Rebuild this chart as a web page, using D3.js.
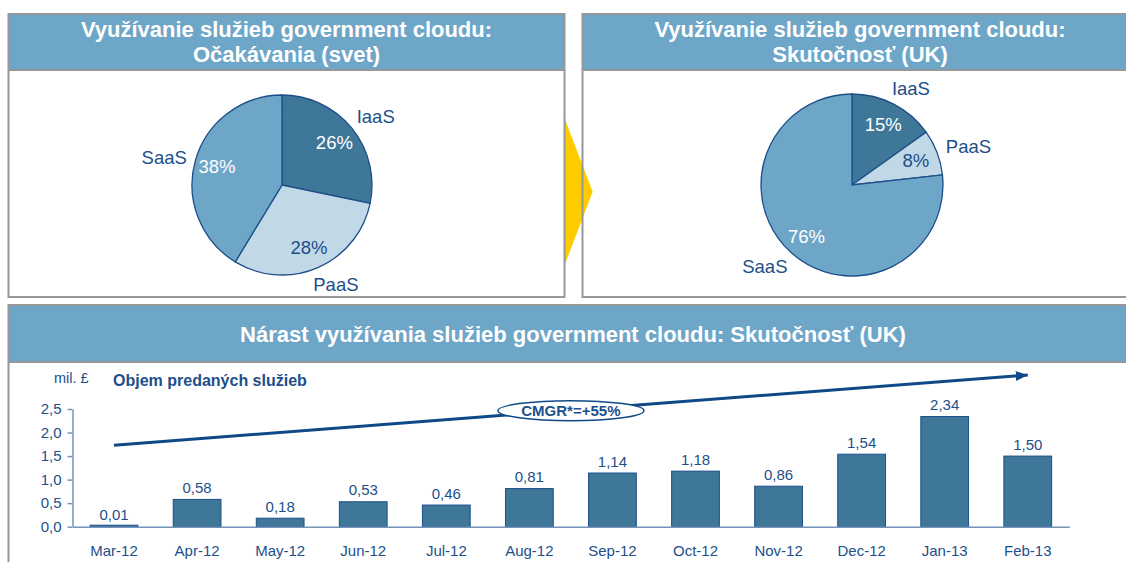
<!DOCTYPE html>
<html>
<head>
<meta charset="utf-8">
<script src="https://cdn.jsdelivr.net/npm/d3@7"></script>
<style>
  body { margin: 0; background: #fff; }
  svg { display: block; font-family: "Liberation Sans", Arial, sans-serif; }
</style>
</head>
<body>
<div id="chart"></div>
<script>
// datos
const segmentos = ["IaaS", "PaaS", "SaaS"];
const podielSvet = [26, 28, 38];
const podielUK = [15, 8, 76];
const mesiace = ["Mar-12", "Apr-12", "May-12", "Jun-12", "Jul-12", "Aug-12",
                 "Sep-12", "Oct-12", "Nov-12", "Dec-12", "Jan-13", "Feb-13"];
const objem = [0.01, 0.58, 0.18, 0.53, 0.46, 0.81, 1.14, 1.18, 0.86, 1.54, 2.34, 1.50];
const yTicks = [0, 0.5, 1.0, 1.5, 2.0, 2.5];
const trend = [1.73, 3.22];   // zaciatok / koniec sipky v mil. £

const width = 1126, height = 562;
const headerFill = "#6ea6c8", borderCol = "#979797", navy = "#1d4f8a";
const pieColor = d3.scaleOrdinal().domain(segmentos).range(["#3e7797", "#c1d9e7", "#6ea6c8"]);
const fmt = v => v.toFixed(2).replace(".", ",");

const svg = d3.select("#chart").append("svg")
    .attr("width", width)
    .attr("height", height);

// panely (vypln)
const panels = [
  {x: 8.5, y: 14, w: 556, h: 283, head: 56},
  {x: 582.5, y: 14, w: 560, h: 283, head: 56},
  {x: 8.5, y: 305, w: 1140, h: 300, head: 57}
];
panels.forEach(p => {
  svg.append("rect").attr("x", p.x).attr("y", p.y).attr("width", p.w).attr("height", p.h)
    .attr("fill", "#fff");
  svg.append("rect").attr("x", p.x).attr("y", p.y).attr("width", p.w).attr("height", p.head)
    .attr("fill", headerFill);
});

// zlta sipka medzi panelmi
svg.append("path")
  .attr("d", "M564,116.7 L592.7,191.7 L564,266.7 Z")
  .attr("fill", "#ffcc00");

// okraje panelov
panels.forEach(p => {
  svg.append("rect").attr("x", p.x).attr("y", p.y).attr("width", p.w).attr("height", p.h)
    .attr("fill", "none").attr("stroke", borderCol).attr("stroke-width", 2);
  svg.append("line").attr("x1", p.x).attr("x2", p.x + p.w)
    .attr("y1", p.y + p.head).attr("y2", p.y + p.head)
    .attr("stroke", borderCol).attr("stroke-width", 2);
});

// nadpisy
function titulok(cx, lines, y0, step) {
  lines.forEach((t, i) => {
    svg.append("text")
      .attr("x", cx).attr("y", y0 + i * step)
      .attr("text-anchor", "middle")
      .attr("font-size", "22px").attr("font-weight", "bold")
      .attr("fill", "#fff")
      .text(t);
  });
}
titulok(286.5, ["Využívanie služieb government cloudu:", "Očakávania (svet)"], 37, 25);
titulok(860, ["Využívanie služieb government cloudu:", "Skutočnosť (UK)"], 37, 25);
titulok(573, ["Nárast využívania služieb government cloudu: Skutočnosť (UK)"], 342, 0);

// kolace; popisky: posun uhla (stupne) a polomer pre kazdy segment
function kolac(values, cx, cy, r, posun, polomer) {
  const data = segmentos.map((s, i) => ({seg: s, val: values[i]}));
  const pie = d3.pie().sort(null).value(d => d.val);
  const arcs = pie(data);
  const arc = d3.arc().innerRadius(0).outerRadius(r);
  const pctArc = d3.arc().innerRadius(r * 0.75).outerRadius(r * 0.75);
  const g = svg.append("g").attr("transform", `translate(${cx},${cy})`);

  g.selectAll("path").data(arcs).enter().append("path")
    .attr("d", arc)
    .attr("fill", d => pieColor(d.data.seg))
    .attr("stroke", navy)
    .attr("stroke-width", 1.3);

  g.selectAll("text.pct").data(arcs).enter().append("text")
    .attr("class", "pct")
    .attr("transform", d => `translate(${pctArc.centroid(d)})`)
    .attr("dy", "0.36em")
    .attr("text-anchor", "middle")
    .attr("font-size", "18.5px")
    .attr("fill", d => d.data.seg === "PaaS" ? navy : "#fff")
    .text(d => d.data.val + "%");

  g.selectAll("text.name").data(arcs).enter().append("text")
    .attr("class", "name")
    .attr("transform", (d, i) => {
      const a = (d.startAngle + d.endAngle) / 2 + posun[i] * Math.PI / 180;
      return `translate(${polomer[i] * Math.sin(a)},${-polomer[i] * Math.cos(a)})`;
    })
    .attr("dy", "0.36em")
    .attr("text-anchor", "middle")
    .attr("font-size", "18.5px")
    .attr("fill", navy)
    .text(d => d.data.seg);
}
kolac(podielSvet, 282, 185, 90, [3, -5, -2.5], [116, 113, 121]);
kolac(podielUK, 852, 185, 91, [4, 2.6, 5], [113.5, 122.7, 119.5]);

// stlpcovy graf
const x = d3.scaleBand().domain(mesiace).range([72.5, 1069.3])
  .paddingInner(0.425).paddingOuter(0.2125);
const y = d3.scaleLinear().domain([0, 2.5]).range([526.7, 409]);
const axisCol = "#7394b8";

// Eje Y
const gy = svg.append("g")
  .attr("transform", `translate(${x.range()[0]},0)`)
  .call(d3.axisLeft(y).tickValues(yTicks).tickSizeInner(5).tickSizeOuter(0).tickPadding(6)
    .tickFormat(d => d.toFixed(1).replace(".", ",")));
gy.select(".domain").attr("stroke", axisCol).attr("stroke-width", 1.5);
gy.selectAll(".tick line").attr("stroke", axisCol).attr("stroke-width", 1.5);
gy.selectAll("text").attr("font-size", "15px").attr("fill", navy)
  .attr("font-family", "Liberation Sans, Arial, sans-serif");

// stlpce
svg.selectAll("rect.bar")
  .data(objem)
  .enter().append("rect")
  .attr("class", "bar")
  .attr("x", (d, i) => x(mesiace[i]))
  .attr("y", d => Math.min(y(d), y(0) - 1.5))
  .attr("width", x.bandwidth())
  .attr("height", d => Math.max(y(0) - y(d), 1.5))
  .attr("fill", "#3e7797")
  .attr("stroke", navy)
  .attr("stroke-width", 1);

// Eje X
const gx = svg.append("g")
  .attr("transform", `translate(0,${y(0)})`)
  .call(d3.axisBottom(x).tickSize(0).tickPadding(19));
gx.select(".domain").attr("stroke", axisCol).attr("stroke-width", 1.5);
gx.selectAll("text").attr("font-size", "15px").attr("fill", navy)
  .attr("font-family", "Liberation Sans, Arial, sans-serif");

// hodnoty nad stlpcami
svg.selectAll("text.val")
  .data(objem)
  .enter().append("text")
  .attr("class", "val")
  .attr("x", (d, i) => x(mesiace[i]) + x.bandwidth() / 2)
  .attr("y", d => y(d) - 6.5)
  .attr("text-anchor", "middle")
  .attr("font-size", "15px")
  .attr("fill", navy)
  .text(fmt);

// jednotka a nazov
svg.append("text").attr("x", 54).attr("y", 383)
  .attr("font-size", "14.5px").attr("fill", navy).text("mil. £");
svg.append("text").attr("x", 113).attr("y", 386)
  .attr("font-size", "16px").attr("font-weight", "bold").attr("fill", navy)
  .text("Objem predaných služieb");

// trend (sipka CMGR)
svg.append("defs").append("marker")
  .attr("id", "hrot")
  .attr("markerUnits", "userSpaceOnUse")
  .attr("viewBox", "0 0 12 10")
  .attr("refX", 12).attr("refY", 5)
  .attr("markerWidth", 12).attr("markerHeight", 10)
  .attr("orient", "auto")
  .append("path").attr("d", "M0,0 L12,5 L0,10 Z").attr("fill", "#0f4a86");

const x1 = x(mesiace[0]) + x.bandwidth() / 2;
const x2 = x(mesiace[mesiace.length - 1]) + x.bandwidth() / 2;
svg.append("line")
  .attr("x1", x1).attr("y1", y(trend[0]))
  .attr("x2", x2).attr("y2", y(trend[1]))
  .attr("stroke", "#0f4a86").attr("stroke-width", 3)
  .attr("marker-end", "url(#hrot)");

const mx = (x1 + x2) / 2, my = (y(trend[0]) + y(trend[1])) / 2;
svg.append("ellipse")
  .attr("cx", mx).attr("cy", my + 0.5).attr("rx", 73).attr("ry", 10)
  .attr("fill", "#fff").attr("stroke", "#0f4a86").attr("stroke-width", 1.5);
svg.append("text")
  .attr("x", mx).attr("y", my + 6)
  .attr("text-anchor", "middle")
  .attr("font-size", "15px").attr("font-weight", "bold").attr("fill", navy)
  .text("CMGR*=+55%");
</script>
</body>
</html>
